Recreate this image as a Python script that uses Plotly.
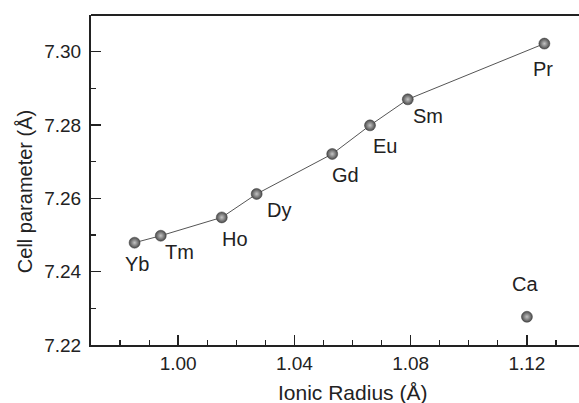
import plotly.graph_objects as go

# Data
elements = ["Yb", "Tm", "Ho", "Dy", "Gd", "Eu", "Sm", "Pr"]
ionic_radius = [0.985, 0.994, 1.015, 1.027, 1.053, 1.066, 1.079, 1.126]
cell_param = [7.2479, 7.2498, 7.2548, 7.2612, 7.2721, 7.2799, 7.2870, 7.3022]
ca_label = ["Ca"]
ca_radius = [1.12]
ca_param = [7.2277]

# label offsets (pixels, style only)
label_offsets = {
    "Yb": (2, 23), "Tm": (19, 18), "Ho": (13, 24), "Dy": (22, 18),
    "Gd": (13, 23), "Eu": (15, 23), "Sm": (20, 19), "Pr": (-1, 27),
    "Ca": (-2, -31),
}

FONT = "Liberation Sans, Arial, Helvetica, sans-serif"
TXT = "#222222"
marker = dict(size=11, color="#4a4a4a",
              gradient=dict(type="radial", color="#c4c4c4"),
              line=dict(width=0.5, color="#3a3a3a"))

fig = go.Figure()
fig.add_trace(go.Scatter(x=ionic_radius, y=cell_param, mode="lines+markers",
                         line=dict(color="#555555", width=1), marker=marker,
                         showlegend=False, hoverinfo="skip"))
fig.add_trace(go.Scatter(x=ca_radius, y=ca_param, mode="markers", marker=marker,
                         showlegend=False, hoverinfo="skip"))

for name, x, y in list(zip(elements, ionic_radius, cell_param)) + list(zip(ca_label, ca_radius, ca_param)):
    dx, dy = label_offsets[name]
    fig.add_annotation(x=x, y=y, text=name, showarrow=False,
                       xshift=dx, yshift=-dy + 2, xanchor="center", yanchor="middle",
                       font=dict(family=FONT, size=20, color=TXT))

# axis titles as annotations for precise placement
fig.add_annotation(xref="paper", yref="paper", x=0.525, y=-0.145, text="Ionic Radius (Å)",
                   showarrow=False, xanchor="center", yanchor="middle",
                   font=dict(family=FONT, size=21, color=TXT))
fig.add_annotation(xref="paper", yref="paper", x=-0.132, y=0.4636, text="Cell parameter (Å)",
                   showarrow=False, xanchor="center", yanchor="middle", textangle=-90,
                   font=dict(family=FONT, size=20, color=TXT))

# top frame line
fig.add_shape(type="line", xref="paper", yref="paper", x0=0, x1=1, y0=1, y1=1,
              line=dict(color=TXT, width=2))

axis_common = dict(showgrid=False, zeroline=False, showline=True, linecolor=TXT,
                   linewidth=2, ticks="inside", ticklen=10, tickwidth=1.5, tickcolor=TXT,
                   automargin=False, mirror=False,
                   tickfont=dict(family=FONT, size=19, color=TXT))

fig.update_xaxes(range=[0.97, 1.1417], tick0=1.0, dtick=0.04, tickformat=".2f",
                 minor=dict(ticks="inside", ticklen=5, dtick=0.01, tick0=1.0,
                            tickcolor=TXT, tickwidth=1.2),
                 **axis_common)
fig.update_yaxes(range=[7.22, 7.31], tick0=7.22, dtick=0.02, tickformat=".2f",
                 ticklabelstandoff=4,
                 minor=dict(ticks="inside", ticklen=5, dtick=0.01, tick0=7.22,
                            tickcolor=TXT, tickwidth=1.2),
                 **axis_common)

fig.update_layout(width=590, height=403, margin=dict(l=91, r=0, t=15, b=58),
                  paper_bgcolor="white", plot_bgcolor="white", hovermode=False)

fig.write_html("out.html", config={"displayModeBar": False, "staticPlot": True},
               post_script="document.body.style.margin='0';document.body.style.overflow='hidden';")
